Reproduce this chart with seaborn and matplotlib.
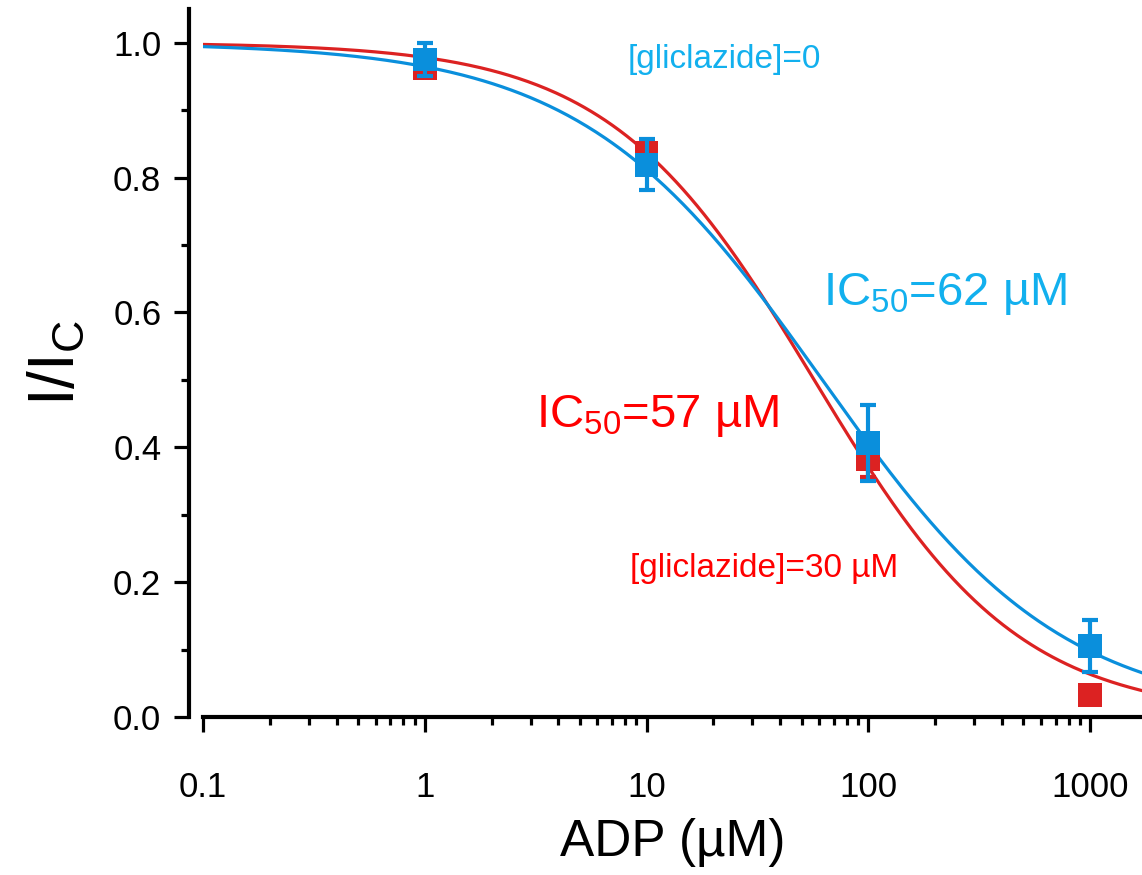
import numpy as np
import pandas as pd
import matplotlib
matplotlib.use("Agg")
import matplotlib.pyplot as plt
import seaborn as sns

# ADP concentrations (µM) and normalised current I/Ic
adp = [1, 10, 100, 1000]
ctrl_mean = [0.975, 0.819, 0.406, 0.105]
ctrl_err = [0.025, 0.038, 0.056, 0.039]
glic_mean = [0.962, 0.837, 0.383, 0.033]
glic_err = [0.010, 0.012, 0.027, 0.0]

# Hill-fit parameters
ctrl_ic50, ctrl_hill = 62.0, 0.80
glic_ic50, glic_hill = 57.0, 0.94

x_ticks = [0.1, 1, 10, 100, 1000]
x_ticklabels = ["0.1", "1", "10", "100", "1000"]
y_ticks = [0.0, 0.2, 0.4, 0.6, 0.8, 1.0]

BLUE = "#0a8fdc"
RED = "#dc2222"
TXT_BLUE = "#12b0ee"
TXT_RED = "#ff0000"

sns.set_theme(style="ticks")
plt.rcParams["font.family"] = ["Liberation Sans", "DejaVu Sans"]
plt.rcParams["mathtext.fontset"] = "custom"
plt.rcParams["mathtext.rm"] = "Liberation Sans"
plt.rcParams["mathtext.it"] = "Liberation Sans"

fig = plt.figure(figsize=(11.42, 8.75), dpi=100)
W, H = 1142, 875
ax = fig.add_axes([203 / W, 1 - 717 / H, (W - 203) / W, (717 - 9) / H])

xs = np.logspace(-1, np.log10(1715), 400)


def hill(x, ic50, n):
    return 1.0 / (1.0 + (x / ic50) ** n)


curves = pd.concat([
    pd.DataFrame({"ADP": xs, "I": hill(xs, glic_ic50, glic_hill), "cond": "glic"}),
    pd.DataFrame({"ADP": xs, "I": hill(xs, ctrl_ic50, ctrl_hill), "cond": "ctrl"}),
])
sns.lineplot(data=curves, x="ADP", y="I", hue="cond",
             palette={"glic": RED, "ctrl": BLUE}, linewidth=2.3,
             legend=False, ax=ax, zorder=2)

# Data points with SEM error bars
ax.errorbar(adp, glic_mean, yerr=glic_err, fmt="none", ecolor=RED,
            elinewidth=3, capsize=5.5, capthick=3, zorder=3)
sns.scatterplot(x=adp, y=glic_mean, marker="s", s=290, color=RED,
                edgecolor="none", ax=ax, zorder=4)
ax.errorbar(adp, ctrl_mean, yerr=ctrl_err, fmt="none", ecolor=BLUE,
            elinewidth=3, capsize=5.5, capthick=3, zorder=5)
sns.scatterplot(x=adp, y=ctrl_mean, marker="s", s=290, color=BLUE,
                edgecolor="none", ax=ax, zorder=6)

ax.set_xscale("log")
ax.set_xlim(0.1, 1715)
ax.set_ylim(0.0, 1.05)
ax.set_xticks(x_ticks)
ax.set_xticklabels(x_ticklabels)
ax.set_yticks(y_ticks)
ax.set_yticklabels([f"{v:.1f}" for v in y_ticks])
ax.yaxis.set_minor_locator(matplotlib.ticker.MultipleLocator(0.1))
ax.xaxis.set_minor_locator(matplotlib.ticker.LogLocator(base=10, subs=np.arange(2, 10)))
ax.xaxis.set_minor_formatter(matplotlib.ticker.NullFormatter())

sns.despine(ax=ax)
ax.spines["left"].set_position(("outward", 10))
ax.spines["left"].set_linewidth(3)
ax.spines["bottom"].set_linewidth(3)
ax.spines["left"].set_color("black")
ax.spines["bottom"].set_color("black")

ax.tick_params(axis="both", which="major", direction="out", length=11, width=2.3,
               color="black", labelsize=25, labelcolor="black")
ax.tick_params(axis="y", which="major", pad=9)
ax.tick_params(axis="x", which="major", pad=28)
ax.tick_params(axis="both", which="minor", direction="out", length=6, width=2.3,
               color="black")

ax.set_xlabel("ADP (µM)", fontsize=37, labelpad=10, color="black")
ax.set_ylabel(r"I/I$_\mathregular{C}$", fontsize=46, labelpad=19, color="black")

ax.text(22.4, 0.963, "[gliclazide]=0", color=TXT_BLUE, fontsize=24,
        ha="center", va="baseline")
ax.text(222, 0.611, r"IC$_\mathregular{50}$=62 µM", color=TXT_BLUE, fontsize=34,
        ha="center", va="baseline")
ax.text(11.2, 0.430, r"IC$_\mathregular{50}$=57 µM", color=TXT_RED, fontsize=34,
        ha="center", va="baseline")
ax.text(34.0, 0.208, "[gliclazide]=30 µM", color=TXT_RED, fontsize=24,
        ha="center", va="baseline")

fig.savefig("out.png", dpi=100)
